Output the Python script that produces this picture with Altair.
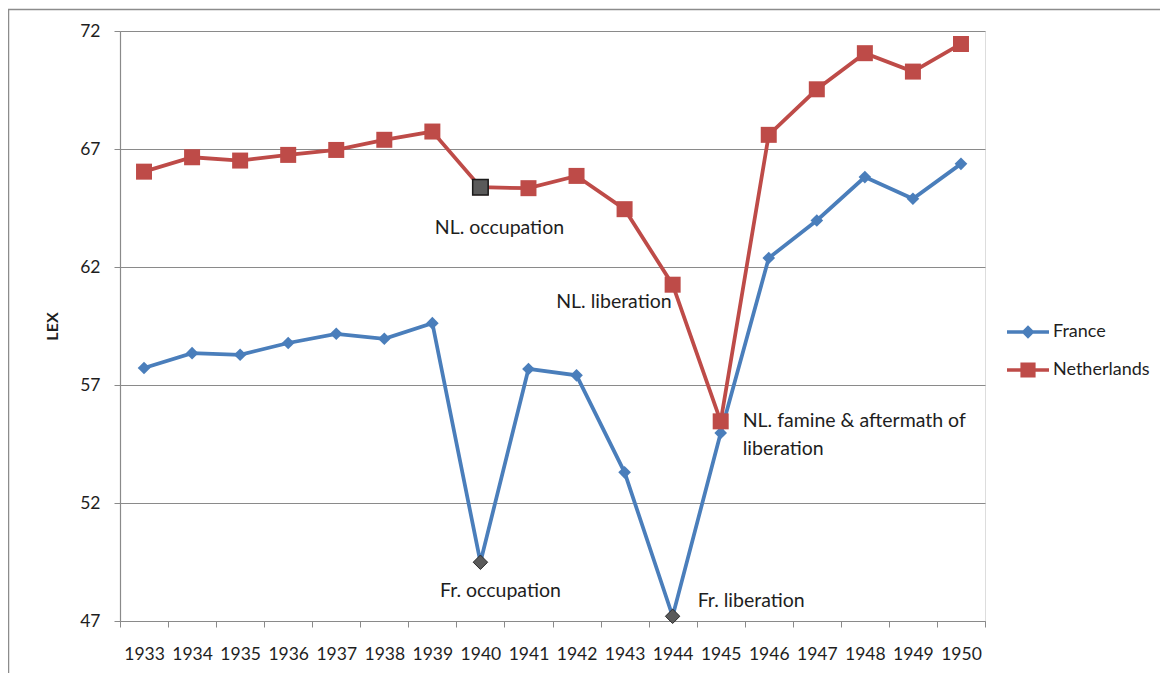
import altair as alt
import pandas as pd

# ---------------- data ----------------
years = list(range(1933, 1951))
france = [57.72, 58.35, 58.28, 58.78, 59.17, 58.96, 59.62, 49.49, 57.68, 57.41,
          53.30, 47.20, 54.97, 62.38, 63.97, 65.81, 64.89, 66.37]
netherlands = [66.04, 66.65, 66.51, 66.75, 66.96, 67.39, 67.74, 65.38, 65.34, 65.86,
               64.45, 61.25, 55.46, 67.60, 69.53, 71.06, 70.28, 71.45]
countries = ["France", "Netherlands"]
y_ticks = [47, 52, 57, 62, 67, 72]

highlight_country = ["France", "France", "Netherlands"]
highlight_year = [1940, 1944, 1940]

ann_text = ["NL. occupation", "NL. liberation",
            "NL. famine & aftermath of\nliberation",
            "Fr. occupation", "Fr. liberation"]
ann_country = ["Netherlands", "Netherlands", "Netherlands", "France", "France"]
ann_year = [1940, 1944, 1945, 1940, 1944]

# ---------------- tables ----------------
series = {"France": france, "Netherlands": netherlands}
rows = []
for c in countries:
    for yr, v in zip(years, series[c]):
        hl = any(hc == c and hy == yr for hc, hy in zip(highlight_country, highlight_year))
        rows.append({"Year": yr, "Country": c, "LEX": v, "hl": hl})
df = pd.DataFrame(rows)

ann_rows = []
for t, c, yr in zip(ann_text, ann_country, ann_year):
    ann_rows.append({"label": t, "Country": c, "Year": yr,
                     "LEX": series[c][years.index(yr)]})
ann_df = pd.DataFrame(ann_rows)

# ---------------- styles ----------------
FONT = "Lato"
BLUE = "#4a7ebb"
RED = "#be4b48"
GRID = "#8a8a8a"
TXT = "#1e1e1e"

x_enc = alt.X(
    "Year:O",
    scale=alt.Scale(type="band", paddingInner=0, paddingOuter=0),
    axis=alt.Axis(title=None, tickBand="extent", tickSize=6, tickColor=GRID,
                  domainColor=GRID, domainWidth=1.2, labelAngle=0,
                  labelFont=FONT, labelFontSize=17.5, labelColor=TXT,
                  labelPadding=18, labelOverlap=False, grid=False),
)
y_enc = alt.Y(
    "LEX:Q",
    scale=alt.Scale(domain=[47, 72], nice=False, zero=False),
    axis=alt.Axis(title="LEX", values=y_ticks, tickSize=6, tickColor=GRID,
                  domainColor=GRID, domainWidth=1.2, grid=True, gridColor=GRID,
                  gridWidth=1.2, labelFont=FONT, labelFontSize=17.5,
                  labelColor=TXT, labelPadding=14, titleFont=FONT,
                  titleFontSize=16, titleFontWeight="bold", titleColor=TXT,
                  titlePadding=19),
)

base = alt.Chart(df).encode(x=x_enc, y=y_enc)

frame = alt.Chart(pd.DataFrame({"f": [0]})).mark_rect(
    fill=None, fillOpacity=0, stroke="#8c8c8c", strokeWidth=1.5
).encode(x=alt.value(-111.5), x2=alt.value(2000), y=alt.value(-21.5), y2=alt.value(2000))

line_fr = base.transform_filter(alt.datum.Country == "France").mark_line(
    color=BLUE, strokeWidth=3.75)
pts_fr = base.transform_filter(alt.datum.Country == "France").mark_point(
    shape="diamond", filled=True, color=BLUE, size=160, opacity=1)
line_nl = base.transform_filter(alt.datum.Country == "Netherlands").mark_line(
    color=RED, strokeWidth=3.75)
pts_nl = base.transform_filter(alt.datum.Country == "Netherlands").mark_point(
    shape="square", filled=True, color=RED, size=256, opacity=1)

hl_fr = base.transform_filter(
    (alt.datum.Country == "France") & alt.datum.hl
).mark_point(shape="diamond", filled=True, fill="#5a5a5a", stroke="#2a2a2a",
             strokeWidth=1, size=210, opacity=1)
hl_nl = base.transform_filter(
    (alt.datum.Country == "Netherlands") & alt.datum.hl
).mark_point(shape="square", filled=True, fill="#5a5a5a", stroke="#1a1a1a",
             strokeWidth=1.5, size=240, opacity=1)

# legend (symbols: line + marker)
LEG_DIAMOND = "M-1.135,-0.095H1.135V0.095H-1.135Z M0,-0.36L0.36,0L0,0.36L-0.36,0Z"
LEG_SQUARE = "M-1.135,-0.095H1.135V0.095H-1.135Z M-0.41,-0.41H0.41V0.41H-0.41Z"
legend_props = dict(title=None, orient="none", legendX=889.5, legendY=282.5,
                    labelFont=FONT, labelFontSize=18, labelColor=TXT,
                    symbolSize=1369, labelOffset=6.5, rowPadding=10, padding=0,
                    symbolStrokeWidth=0)
legend_layer = alt.Chart(df).mark_point(filled=True, opacity=1).encode(
    x=x_enc, y=y_enc,
    color=alt.Color("Country:N", scale=alt.Scale(domain=countries, range=[BLUE, RED]),
                    legend=alt.Legend(**legend_props)),
    shape=alt.Shape("Country:N", scale=alt.Scale(domain=countries,
                                                 range=[LEG_DIAMOND, LEG_SQUARE]),
                    legend=alt.Legend(**legend_props)),
).transform_filter("false")

# annotations
abase = alt.Chart(ann_df).encode(x=x_enc, y=y_enc, text="label:N")
tstyle = dict(font=FONT, fontSize=19.5, color=TXT, baseline="middle")
def ann(label, **kw):
    return abase.transform_filter(alt.datum.label == label).mark_text(**tstyle, **kw)

a1 = ann(ann_text[0], align="center", dx=19, dy=41)
a2 = ann(ann_text[1], align="right", dx=-1, dy=17)
a3 = ann(ann_text[2], align="left", dx=22, dy=0, lineBreak="\n", lineHeight=28)
a4 = ann(ann_text[3], align="center", dx=20, dy=29)
a5 = ann(ann_text[4], align="left", dx=25, dy=-15)

chart = alt.layer(
    frame, line_fr, pts_fr, hl_fr, line_nl, pts_nl, hl_nl, legend_layer,
    a1, a2, a3, a4, a5
).properties(
    width=865, height=590,
    padding={"left": 112, "top": 23, "right": 175, "bottom": 52},
    autosize=alt.AutoSizeParams(type="none"),
).configure_view(stroke=None).configure(background="white")

chart.save("out.html", embed_options={"renderer": "svg", "actions": False})
